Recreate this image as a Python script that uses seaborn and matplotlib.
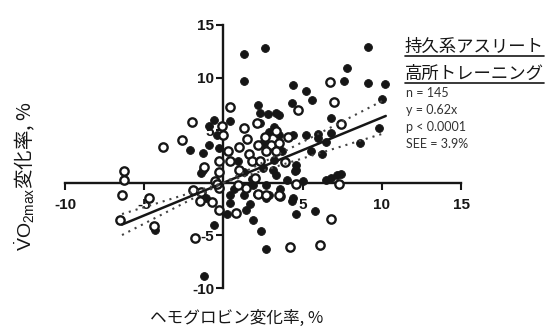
import matplotlib
matplotlib.use("Agg")
import matplotlib.pyplot as plt
import seaborn as sns
import numpy as np
import pandas as pd

# Change in haemoglobin (%) vs change in VO2max (%) for each athlete
filled_x = [1.3, 2.6, 1.3, 4.4, 5.2, 5.6, 4.3, 2.2, 2.3, 2.8, 3.3, 3.5, 9.1, 7.8, 7.6,
            9.1, 10.2, 10.0, 6.8, 9.8, 8.6, 6.0, 6.5, 4.4, 5.2, 6.0, 6.8, 6.2, 5.5, 4.6,
            4.5, 6.5, 6.8, 7.2, 7.4, 2.9, 2.7, 4.3, 4.6, 5.8, 2.4, 2.7, 1.9, 1.4, 0.4,
            -2.1, -1.3, -0.9, -0.9, -0.6, 0.4, -0.25, -1.3, -1.4, -4.3, -1.1, -0.6, -1.2,
            2.3, 2.9, 3.2, 3.5, 2.5, 3.7, 0.9, 2.5, 1.3, 3.1, 3.3, 4.0, 4.6, 1.9, 2.7,
            0.4, 1.3, 2.1, 4.4, 0.7, 1.7, 3.2, -0.4, 1.8, 0.2, 5.0, 3.6]
filled_y = [12.2, 12.8, 9.7, 9.3, 8.7, 7.9, 7.6, 7.4, 6.6, 6.5, 6.6, 6.4, 12.9, 10.9, 9.7,
            9.5, 9.4, 8.0, 6.2, 5.2, 3.8, 4.6, 3.9, 4.5, 4.5, 4.3, 4.7, 2.7, 3.0, 1.7,
            1.1, 0.3, 0.5, 0.7, 0.8, -1.2, -1.4, -1.7, -3.0, -2.7, -4.6, -6.3, -3.5, -2.6, -1.9,
            3.1, 2.8, 3.6, 5.4, 6.0, 5.9, 3.3, 1.2, 0.9, -4.5, -1.4, -4.0, -8.9,
            5.7, 4.8, 5.3, 4.5, 3.8, 3.0, 2.1, 1.4, 1.0, 1.2, 0.7, 0.3, 1.2, -0.2, -0.2,
            -1.2, -1.2, -1.1, -1.4, -0.6, -2.0, 2.2, 4.5, 0.4, -3.0, 0.2, -0.6]

open_x = [0.4, 4.7, 6.7, 7.0, 7.4, 1.3, -3.8, -2.6, -2.0, -0.1, 2.1, -6.3, -6.3, -6.4,
          -4.7, -6.5, -4.4, -1.8, -1.9, -1.4, -1.5, -0.25, 0.8, -1.2, 3.6, 2.2, 6.8, 4.2,
          6.1, 7.3, 4.6, 0.0, 3.3, 2.2, 3.0, 3.5, 1.6, 2.7, 3.3, -0.25, 0.4, 1.8, 2.3,
          1.0, -0.25, -0.3, 1.4, 2.7, 3.5, 1.5, 0.3, -0.5, 2.0, -0.7, 3.9, 2.6, 1.0, 4.1,
          0.9, -0.4]
open_y = [7.2, 6.9, 9.6, 7.7, 5.6, 5.2, 3.4, 4.1, 5.8, 5.4, 5.7, 1.1, 0.3, -1.2,
          -1.4, -3.5, -4.1, -5.2, -0.7, -0.9, -1.7, -2.6, -2.9, 1.5, -1.3, -1.1, -3.4, -6.1,
          -5.9, -0.1, -0.1, 4.5, 4.9, 3.6, 3.6, 3.8, 2.7, 3.0, 3.0, 2.1, 2.1, 2.1, 2.1,
          1.2, 1.0, -0.5, -0.5, -1.2, -1.2, 4.2, 3.0, 0.2, 0.5, -1.8, 2.0, 4.4, 3.4, 4.4,
          -0.2, -0.1]

# Regression through the origin and its 95% confidence limits
slope = 0.62
slope_lo = 0.464
slope_hi = 0.776
fit_x = [-6.4, 10.25]

tick_values = [-10, -5, 5, 10, 15]
tick_labels = ["-10", "-5", "5", "10", "15"]

legend_titles = ["持久系アスリート", "高所トレーニング"]
stats_lines = ["n = 145", "y = 0.62x", "p < 0.0001", "SEE = 3.9%"]

sns.set_theme(style="white")
plt.rcParams["font.family"] = ["Liberation Sans", "Noto Sans CJK JP", "DejaVu Sans"]
plt.rcParams["mathtext.fontset"] = "custom"
plt.rcParams["mathtext.rm"] = "Liberation Sans"
plt.rcParams["mathtext.it"] = "Liberation Sans"

ink = "#161616"

fig = plt.figure(figsize=(5.51, 3.31), dpi=100)
ax = fig.add_axes([65 / 551, 1 - 288 / 331, 396 / 551, 263 / 331])

df_f = pd.DataFrame({"hb": filled_x, "vo2": filled_y})
df_o = pd.DataFrame({"hb": open_x, "vo2": open_y})

sns.scatterplot(data=df_f, x="hb", y="vo2", ax=ax, color=ink, edgecolor=ink,
                s=32, linewidth=0.6, zorder=3)
sns.scatterplot(data=df_o, x="hb", y="vo2", ax=ax, color="white", edgecolor=ink,
                s=36, linewidth=1.7, zorder=4)

fx = np.array(fit_x)
ax.plot(fx, slope * fx, color=ink, lw=1.8, zorder=5)
for sl in (slope_lo, slope_hi):
    ax.plot(fx, sl * fx, color="#444444", lw=1.5, ls=(0, (1.0, 2.4)), zorder=5)

ax.set_xlim(-10, 15)
ax.set_ylim(-10, 15)
for side in ("top", "right"):
    ax.spines[side].set_visible(False)
for side in ("left", "bottom"):
    ax.spines[side].set_position(("data", 0))
    ax.spines[side].set_linewidth(1.7)
    ax.spines[side].set_color(ink)
    ax.spines[side].set_zorder(2)

ax.set_xticks(tick_values)
ax.set_xticklabels(tick_labels)
ax.set_yticks(tick_values)
ax.set_yticklabels(tick_labels)
ax.tick_params(axis="both", direction="out", length=5, width=1.5, color=ink,
               labelsize=11, labelcolor=ink)
ax.tick_params(axis="x", pad=6, bottom=True)
ax.tick_params(axis="y", pad=1.5, left=True)
for lab in ax.get_xticklabels() + ax.get_yticklabels():
    lab.set_fontweight("bold")
ax.set_xlabel("")
ax.set_ylabel("")
ax.patch.set_alpha(0)

fig.text(237 / 551, 1 - 318 / 331, "ヘモグロビン変化率, %", ha="center", va="center",
         fontsize=12, color=ink, family=["Noto Sans CJK JP", "DejaVu Sans"])
fig.text(25 / 551, 1 - 176 / 331,
         r"$\dot{\mathrm{V}}\mathrm{O}_{2\mathrm{max}}$変化率, %",
         rotation=90, ha="center", va="center", fontsize=14, color=ink,
         family=["Noto Sans CJK JP", "DejaVu Sans"])

fig.canvas.draw()
renderer = fig.canvas.get_renderer()
for i, title in enumerate(legend_titles):
    ty = 1 - (47 + i * 27) / 331
    t = fig.text(405 / 551, ty, title, ha="left", va="center", fontsize=12.5,
                 color=ink, family=["Noto Sans CJK JP", "DejaVu Sans"])
    bb = t.get_window_extent(renderer)
    uy = bb.y0 / fig.bbox.height + 0.5 / 331
    fig.add_artist(plt.Line2D([bb.x0 / fig.bbox.width, bb.x1 / fig.bbox.width],
                              [uy, uy], color=ink, lw=1.2,
                              transform=fig.transFigure))

for i, line in enumerate(stats_lines):
    fig.text(406 / 551, 1 - (93 + i * 17) / 331, line, ha="left", va="center",
             fontsize=9, color="#333333", family=["Lato", "DejaVu Sans"])

fig.savefig("out.png", dpi=100)
